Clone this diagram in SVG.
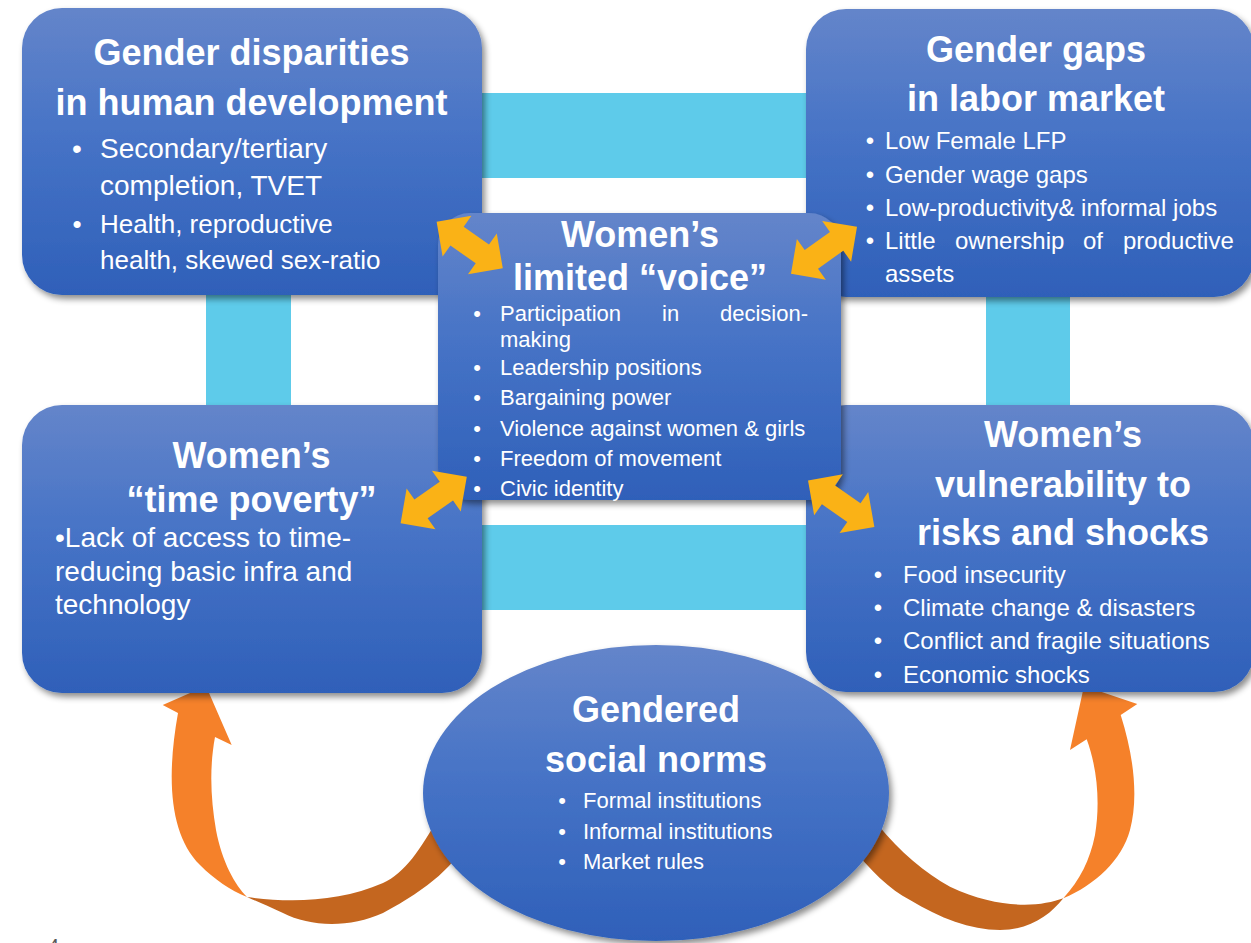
<svg xmlns="http://www.w3.org/2000/svg" width="1251" height="943" viewBox="0 0 1251 943">
<style>
.t{font-family:"Liberation Sans",Arial,sans-serif;fill:#fff}
.h{font-weight:bold;font-size:36px;text-anchor:middle}
.b{text-anchor:middle}
.box{fill:url(#g);filter:url(#sh)}
.cy{fill:#5ecbea}
.ya{fill:#fab216}
</style>
<defs>
<linearGradient id="g" x1="0" y1="0" x2="0" y2="1">
<stop offset="0" stop-color="#6485ca"/>
<stop offset="0.45" stop-color="#4673c6"/>
<stop offset="1" stop-color="#2f60b9"/>
</linearGradient>
<filter id="sh" x="-10%" y="-10%" width="120%" height="125%">
<feDropShadow dx="3" dy="4" stdDeviation="3" flood-color="#000" flood-opacity="0.45"/>
</filter>
<polygon id="dbl" points="-40.5,0 -15.5,-25 -15.5,-11.5 15.5,-11.5 15.5,-25 40.5,0 15.5,25 15.5,11.5 -15.5,11.5 -15.5,25"/>
</defs>
<rect width="1251" height="943" fill="#fff"/>

<g id="connectors">
<rect class="cy" x="440" y="93" width="400" height="85"/>
<rect class="cy" x="440" y="525" width="400" height="85"/>
<rect class="cy" x="206" y="260" width="85" height="180"/>
<rect class="cy" x="986" y="260" width="84" height="180"/>
<path fill="#f5812a" d="M178,713 C166,780 170,835 200,865 C215,880 230,890 247,897 C235,885 222,862 216,830 C211,800 209,770 215,737 L231.7,745 L206,686 L162.7,705 Z"/>
<path fill="#c4661f" d="M247,897 C290,903 340,902 383,883 C405,873 420,850 440,815 L472,835 C455,865 430,888 383,913 C350,928 310,927 283,913 C268,906 256,901 247,897 Z"/>
<path fill="#f5812a" d="M1120.7,715 C1135,760 1138,800 1130,830 C1122,860 1095,885 1063.3,898.3 C1080,880 1090,860 1095,835 C1100,805 1098,770 1086.7,739.3 L1070,750 L1084,686 L1137.3,704 Z"/>
<path fill="#c4661f" d="M1063.3,898.3 C1040,907 1000,910 950,886.7 C925,873 900,852 878,825 L850,845 C870,870 890,890 910,900 C940,918 970,930 1000,930 C1030,930 1050,915 1063.3,898.3 Z"/>
</g>

<g id="node-human-development">
<rect class="box" x="22" y="8" width="460" height="287" rx="40"/>
<text class="t h" x="251.5" y="65">Gender disparities</text>
<text class="t h" x="251.5" y="115">in human development</text>
<text class="t b" x="77" y="158" font-size="28">•</text>
<text class="t" x="100" y="158" font-size="28">Secondary/tertiary</text>
<text class="t" x="100" y="195" font-size="28">completion, TVET</text>
<text class="t b" x="77" y="233" font-size="26">•</text>
<text class="t" x="100" y="233" font-size="26">Health, reproductive</text>
<text class="t" x="100" y="269" font-size="26">health, skewed sex-ratio</text>
</g>

<g id="node-labor-market">
<rect class="box" x="806" y="9" width="448" height="288" rx="40"/>
<text class="t h" x="1036" y="62">Gender gaps</text>
<text class="t h" x="1036" y="111">in labor market</text>
<g font-size="24">
<text class="t b" x="870" y="149">•</text>
<text class="t" x="885" y="149">Low Female LFP</text>
<text class="t b" x="870" y="182.5">•</text>
<text class="t" x="885" y="182.5">Gender wage gaps</text>
<text class="t b" x="870" y="216">•</text>
<text class="t" x="885" y="216">Low-productivity&amp; informal jobs</text>
<text class="t b" x="870" y="249">•</text>
<text class="t" y="249"><tspan x="885">Little</tspan><tspan x="955">ownership</tspan><tspan x="1083">of</tspan><tspan x="1123">productive</tspan></text>
<text class="t" x="885" y="282">assets</text>
</g>
</g>

<g id="node-time-poverty">
<rect class="box" x="22" y="405" width="460" height="288" rx="40"/>
<text class="t h" x="251.5" y="468">Women’s</text>
<text class="t h" x="251.5" y="512">“time poverty”</text>
<g font-size="28">
<text class="t" x="55" y="547">•Lack of access to time-</text>
<text class="t" x="55" y="581">reducing basic infra and</text>
<text class="t" x="55" y="614">technology</text>
</g>
</g>

<g id="node-vulnerability">
<rect class="box" x="806" y="405" width="448" height="287" rx="40"/>
<text class="t h" x="1063" y="447">Women’s</text>
<text class="t h" x="1063" y="497">vulnerability to</text>
<text class="t h" x="1063" y="545">risks and shocks</text>
<g font-size="24">
<text class="t b" x="878" y="583">•</text>
<text class="t" x="903" y="583">Food insecurity</text>
<text class="t b" x="878" y="616">•</text>
<text class="t" x="903" y="616">Climate change &amp; disasters</text>
<text class="t b" x="878" y="649">•</text>
<text class="t" x="903" y="649">Conflict and fragile situations</text>
<text class="t b" x="878" y="683">•</text>
<text class="t" x="903" y="683">Economic shocks</text>
</g>
</g>

<g id="node-social-norms">
<ellipse cx="656" cy="793" rx="233" ry="148" style="fill:url(#g);filter:url(#sh)"/>
<text class="t h" x="656" y="722">Gendered</text>
<text class="t h" x="656" y="772">social norms</text>
<g font-size="22">
<text class="t b" x="562" y="808">•</text>
<text class="t" x="583" y="808">Formal institutions</text>
<text class="t b" x="562" y="839">•</text>
<text class="t" x="583" y="839">Informal institutions</text>
<text class="t b" x="562" y="869">•</text>
<text class="t" x="583" y="869">Market rules</text>
</g>
</g>

<g id="node-voice">
<rect class="box" x="438" y="213" width="403" height="287" rx="32"/>
<text class="t h" x="640" y="247">Women’s</text>
<text class="t h" x="640" y="290">limited “voice”</text>
<g font-size="22">
<text class="t b" x="477" y="321">•</text>
<text class="t" y="321"><tspan x="500">Participation</tspan><tspan x="662">in</tspan><tspan x="720">decision-</tspan></text>
<text class="t" x="500" y="347">making</text>
<text class="t b" x="477" y="375">•</text>
<text class="t" x="500" y="375">Leadership positions</text>
<text class="t b" x="477" y="405">•</text>
<text class="t" x="500" y="405">Bargaining power</text>
<text class="t b" x="477" y="436">•</text>
<text class="t" x="500" y="436">Violence against women &amp; girls</text>
<text class="t b" x="477" y="466">•</text>
<text class="t" x="500" y="466">Freedom of movement</text>
<text class="t b" x="477" y="496">•</text>
<text class="t" x="500" y="496">Civic identity</text>
</g>
</g>

<g id="double-arrows">
<use href="#dbl" class="ya" transform="translate(469.7,245) rotate(35.2)"/>
<use href="#dbl" class="ya" transform="translate(824,250.3) rotate(-35.4)"/>
<use href="#dbl" class="ya" transform="translate(433.7,500) rotate(-35.2)"/>
<use href="#dbl" class="ya" transform="translate(841.2,503.7) rotate(35)"/>
</g>

<text x="48" y="953" font-family="Liberation Sans,Arial,sans-serif" font-size="20" fill="#595959">4</text>
</svg>
